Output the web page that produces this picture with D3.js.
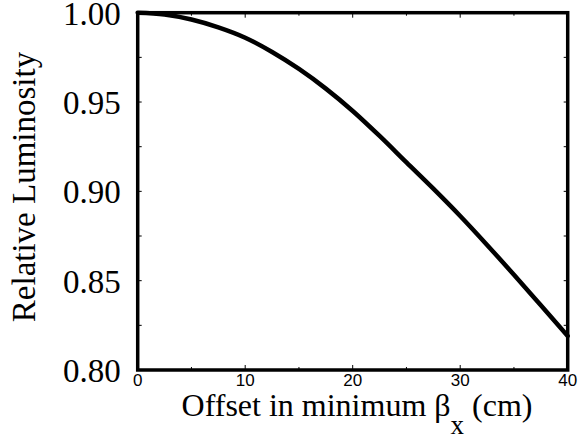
<!DOCTYPE html>
<html>
<head>
<meta charset="utf-8">
<script src="https://cdn.jsdelivr.net/npm/d3@7"></script>
<style>
  body { margin: 0; background: #fff; }
  svg { display: block; }
  .serif { font-family: "Liberation Serif"; }
  .sans { font-family: "Liberation Sans"; }
</style>
</head>
<body>
<div id="chart"></div>
<script>
// offset in minimum beta_x (cm) and relative luminosity
const offsets = [0, 2.5, 5, 7.5, 10, 12.5, 15, 17.5, 20, 22.5, 25, 27.5, 30, 32.5, 35, 37.5, 40];
const luminosity = [1.000, 0.9990, 0.9962, 0.9918, 0.9860, 0.9780, 0.9685, 0.9575, 0.9450,
                    0.9310, 0.9162, 0.9015, 0.8862, 0.8700, 0.8533, 0.8362, 0.8190];
const xTicks = [0, 10, 20, 30, 40];
const yTicks = [0.80, 0.85, 0.90, 0.95, 1.00];

const W = 585, H = 439;
const margin = { top: 12.7, right: 17.3, bottom: 69, left: 137.7 },
    width = W - margin.left - margin.right,
    height = H - margin.top - margin.bottom;

const svg = d3.select("#chart").append("svg")
    .attr("width", W)
    .attr("height", H);

const g = svg.append("g")
    .attr("transform", `translate(${margin.left},${margin.top})`);

const x = d3.scaleLinear().domain([0, 40]).range([0, width]);
const y = d3.scaleLinear().domain([0.80, 1.00]).range([height, 0]);

// inward ticks on all four sides
const xMinor = d3.range(5, 40, 10), xMajor = [10, 20, 30];
const yAll = d3.range(0.825, 1.0, 0.025);
const tickStyle = sel => sel.attr("stroke", "#000").attr("stroke-width", 1);

g.selectAll(".xmaj").data(xMajor).enter().append("line")
    .attr("x1", d => x(d)).attr("x2", d => x(d))
    .attr("y1", height).attr("y2", height - 5).call(tickStyle);
g.selectAll(".xmin").data(xMinor).enter().append("line")
    .attr("x1", d => x(d)).attr("x2", d => x(d))
    .attr("y1", height).attr("y2", height - 3).call(tickStyle);
g.selectAll(".xmajt").data(xMajor).enter().append("line")
    .attr("x1", d => x(d)).attr("x2", d => x(d))
    .attr("y1", 0).attr("y2", 5).call(tickStyle);
g.selectAll(".xmint").data(xMinor).enter().append("line")
    .attr("x1", d => x(d)).attr("x2", d => x(d))
    .attr("y1", 0).attr("y2", 3).call(tickStyle);
g.selectAll(".yl").data(yAll).enter().append("line")
    .attr("x1", 0).attr("x2", 4)
    .attr("y1", d => y(d)).attr("y2", d => y(d)).call(tickStyle);
g.selectAll(".yr").data(yAll).enter().append("line")
    .attr("x1", width).attr("x2", width - 4)
    .attr("y1", d => y(d)).attr("y2", d => y(d)).call(tickStyle);

// frame
g.append("rect")
    .attr("width", width).attr("height", height)
    .attr("fill", "none").attr("stroke", "#000").attr("stroke-width", 3.5);

// curve
const line = d3.line()
    .x((d, i) => x(offsets[i]))
    .y(d => y(d))
    .curve(d3.curveMonotoneX);

g.append("path")
    .datum(luminosity)
    .attr("d", line)
    .attr("fill", "none")
    .attr("stroke", "#000")
    .attr("stroke-width", 4.5)
    .attr("stroke-linecap", "round");

// y tick labels (serif)
g.selectAll(".ylab").data(yTicks).enter().append("text")
    .attr("class", "serif")
    .attr("x", -17)
    .attr("y", d => y(d))
    .attr("dy", "0.36em")
    .attr("text-anchor", "end")
    .style("font-size", "33px")
    .text(d => d.toFixed(2));

// x tick labels (sans)
g.selectAll(".xlab").data(xTicks).enter().append("text")
    .attr("class", "sans")
    .attr("x", d => x(d))
    .attr("y", height + 16)
    .attr("text-anchor", "middle")
    .style("font-size", "17px")
    .text(d => d);

// axis titles
const xt = svg.append("text")
    .attr("class", "serif")
    .attr("x", 357)
    .attr("y", 416)
    .attr("text-anchor", "middle")
    .style("font-size", "32px");
xt.append("tspan").text("Offset in minimum β");
xt.append("tspan").attr("dy", 18).style("font-size", "27px").text("x");
xt.append("tspan").attr("dy", -18).text(" (cm)");

svg.append("text")
    .attr("class", "serif")
    .attr("transform", "translate(35,187) rotate(-90)")
    .attr("text-anchor", "middle")
    .style("font-size", "33px")
    .text("Relative Luminosity");
</script>
</body>
</html>
